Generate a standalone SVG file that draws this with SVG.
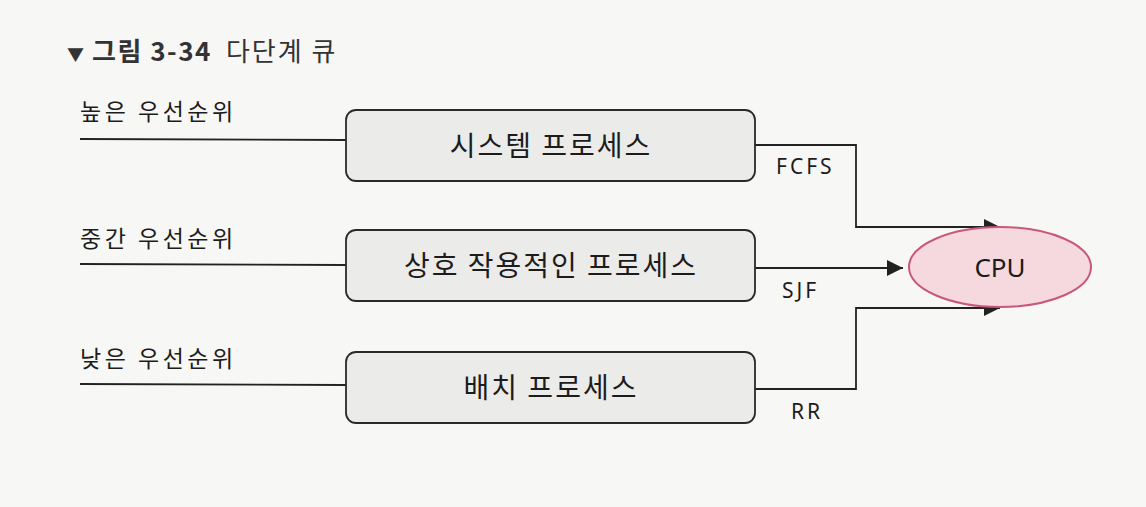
<svg xmlns="http://www.w3.org/2000/svg" width="1146" height="507" viewBox="0 0 1146 507">
<style>
.bg{fill:#f7f7f5}
.box{fill:#ebebea;stroke:#2a2a2a;stroke-width:1.8}
.lbl{font-family:"Noto Sans CJK KR","Noto Sans",sans-serif;font-size:23px;fill:#1c1c1c;letter-spacing:3.5px}
.btxt{font-family:"Noto Sans CJK KR","Noto Sans",sans-serif;font-size:28px;fill:#1c1c1c;text-anchor:middle;letter-spacing:2px}
.alg{font-family:"Noto Sans","Noto Sans CJK KR",sans-serif;font-size:21px;fill:#1c1c1c;letter-spacing:3px}
.ln{fill:none;stroke:#222;stroke-width:1.8}
.ttl{font-family:"Noto Sans CJK KR","Noto Sans",sans-serif;font-size:26px;fill:#333}
</style>
<defs>
<marker id="ah" viewBox="0 0 10 10" refX="10" refY="5" markerWidth="16" markerHeight="16" markerUnits="userSpaceOnUse" orient="auto">
<path d="M0,0 L10,5 L0,10 z" fill="#222"/>
</marker>
</defs>
<rect class="bg" x="0" y="0" width="1146" height="507"/>
<g id="title">
<text class="ttl" x="67" y="61"><tspan font-size="17">▼</tspan><tspan font-weight="bold" dx="8" letter-spacing="1.5">그림 3-34</tspan><tspan dx="14" letter-spacing="2">다단계 큐</tspan></text>
</g>
<g id="labels">
<text class="lbl" x="80" y="120">높은 우선순위</text>
<text class="lbl" x="80" y="247">중간 우선순위</text>
<text class="lbl" x="80" y="367">낮은 우선순위</text>
</g>
<g id="connectors">
<path class="ln" d="M80,139 L346,140"/>
<path class="ln" d="M80,264 L346,265"/>
<path class="ln" d="M80,384 L346,385"/>
<path class="ln" d="M755,145 L856,145 L856,227 L1000,227" marker-end="url(#ah)"/>
<path class="ln" d="M755,268 L903,268" marker-end="url(#ah)"/>
<path class="ln" d="M755,389 L856,389 L856,308 L1000,308" marker-end="url(#ah)"/>
<text class="alg" x="776" y="174">FCFS</text>
<text class="alg" x="782" y="298">SJF</text>
<text class="alg" x="791" y="419">RR</text>
</g>
<g id="node-system">
<rect class="box" x="346" y="110" width="409" height="71" rx="10"/>
<text class="btxt" x="551" y="156">시스템 프로세스</text>
</g>
<g id="node-interactive">
<rect class="box" x="346" y="230" width="409" height="71" rx="10"/>
<text class="btxt" x="551" y="276">상호 작용적인 프로세스</text>
</g>
<g id="node-batch">
<rect class="box" x="346" y="352" width="409" height="71" rx="10"/>
<text class="btxt" x="551" y="398">배치 프로세스</text>
</g>
<g id="node-cpu">
<ellipse cx="1000" cy="267" rx="91" ry="40" fill="#f6d9df" stroke="#c8577a" stroke-width="2"/>
<text x="1000" y="277" text-anchor="middle" font-family="Noto Sans, sans-serif" font-size="26" fill="#1c1c1c">CPU</text>
</g>
</svg>
